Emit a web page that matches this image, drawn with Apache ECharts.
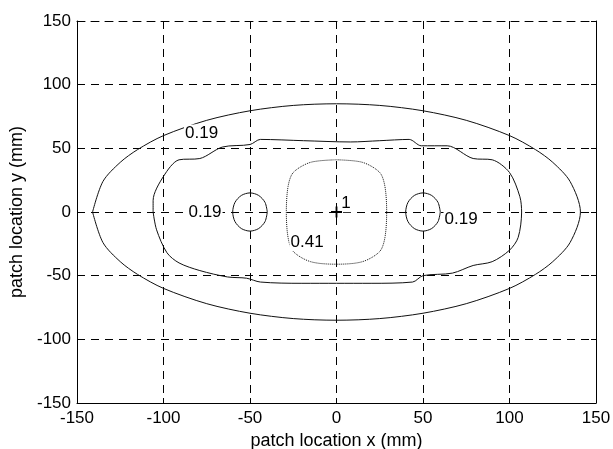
<!DOCTYPE html>
<html>
<head>
<meta charset="utf-8">
<script src="https://cdn.jsdelivr.net/npm/echarts@6/dist/echarts.min.js"></script>
<style>
  html, body { margin: 0; padding: 0; background: #fff; }
  #main { width: 613px; height: 449px; }
</style>
</head>
<body>
<div id="main"></div>
<script>
// tick labels
var ticks = [-150, -100, -50, 0, 50, 100, 150]

// contour 0.19 outer (ellipse-like)
var outerContour = [
  [-141, 0], [-135, 24], [-125, 39], [-115, 49], [-100, 60], [-75, 72], [-50, 79.5], [-25, 83.7],
  [0, 85], [25, 83.7], [50, 79.5], [75, 72], [100, 60], [115, 49], [125, 39], [135, 24], [141, 0],
  [135, -24], [125, -39], [115, -49], [100, -60], [75, -72], [50, -79.5], [25, -83.7],
  [0, -85], [-25, -83.7], [-50, -79.5], [-75, -72], [-100, -60], [-115, -49], [-125, -39], [-135, -24], [-141, 0]
]

// middle contour
var middleContour = [
  [-106, 0], [-106, 9], [-100, 28], [-91, 41], [-79, 42], [-66, 51], [-50, 53], [-44, 57], [-19, 56],
  [8, 55], [25, 56], [42, 57], [49, 52], [64, 52], [79, 42], [90, 41], [100, 31], [106, 12], [107, 0],
  [105, -20], [100, -30], [90, -39], [79, -42], [67, -48], [50, -50], [44, -55], [20, -56], [0, -56],
  [-20, -56], [-44, -55], [-52, -52], [-63, -51], [-79, -46], [-91, -40], [-98, -32], [-104, -14], [-106, 0]
]

// small contours around x = -50 and x = 50
var leftCircle = [
  [-40, 0], [-41.3, 7.5], [-45, 13], [-50, 15], [-55, 13], [-58.7, 7.5], [-60, 0],
  [-58.7, -7.5], [-55, -13], [-50, -15], [-45, -13], [-41.3, -7.5], [-40, 0]
]
var rightCircle = [
  [60, 0], [58.7, 7.5], [55, 13], [50, 15], [45, 13], [41.3, 7.5], [40, 0],
  [41.3, -7.5], [45, -13], [50, -15], [55, -13], [58.7, -7.5], [60, 0]
]

// inner dotted contour 0.41
var innerContour = [
  [0, 41], [15, 39], [25, 31], [28, 20], [29, 0], [28, -20], [25, -31], [15, -39],
  [0, -41], [-15, -39], [-25, -31], [-28, -20], [-29, 0], [-28, 20], [-25, 31], [-15, 39], [0, 41]
]

// contour labels [x, y, text]
var contourLabels = [
  [-78, 62, '0.19'],
  [-76, 0, '0.19'],
  [72, -6, '0.19'],
  [-17, -24, '0.41'],
  [5.5, 6.5, '1']
]
var peak = [[0, 0]]

var font = 'Liberation Sans, Arial, sans-serif'
var myChart = echarts.init(document.getElementById('main'))

function contourSeries (data, type) {
  return {
    type: 'line',
    data: data,
    smooth: 0.3,
    symbol: 'none',
    silent: true,
    lineStyle: { color: '#111', width: 1, type: type || 'solid' },
    z: 3
  }
}

var axisCommon = {
  type: 'value',
  min: -150,
  max: 150,
  interval: 50,
  axisLine: { show: true, onZero: false, lineStyle: { color: '#000', width: 1 } },
  axisTick: { show: true, inside: true, length: 5, lineStyle: { color: '#000' } },
  splitLine: { show: true, lineStyle: { color: '#000', width: 1, type: [8, 6] } },
  nameLocation: 'middle',
  nameTextStyle: { color: '#000', fontSize: 18, fontFamily: font }
}

myChart.setOption({
  animation: false,
  backgroundColor: '#fff',
  grid: { left: 77, right: 17, top: 21, bottom: 46, containLabel: false, outerBoundsMode: 'none' },
  xAxis: [
    Object.assign({}, axisCommon, {
      position: 'bottom',
      name: 'patch location x (mm)',
      nameGap: 23,
      axisLabel: { color: '#000', fontSize: 17, fontFamily: font, margin: 7 }
    }),
    Object.assign({}, axisCommon, {
      position: 'top',
      axisLine: { show: true, onZero: false, lineStyle: { color: '#000', width: 1, type: [8, 6] } },
      axisLabel: { show: false },
      splitLine: { show: false }
    })
  ],
  yAxis: [
    Object.assign({}, axisCommon, {
      position: 'left',
      name: 'patch location y (mm)',
      nameGap: 45,
      nameRotate: 90,
      axisLabel: { color: '#000', fontSize: 17, fontFamily: font, margin: 6 }
    }),
    Object.assign({}, axisCommon, {
      position: 'right',
      axisLabel: { show: false },
      splitLine: { show: false }
    })
  ],
  series: [
    contourSeries(outerContour),
    contourSeries(middleContour),
    contourSeries(leftCircle),
    contourSeries(rightCircle),
    contourSeries(innerContour, 'dotted'),
    {
      type: 'scatter',
      data: contourLabels,
      symbolSize: 0,
      silent: true,
      itemStyle: { opacity: 1 },
      label: {
        show: true,
        position: 'inside',
        formatter: function (p) { return p.value[2] },
        color: '#000',
        textBorderWidth: 0,
        fontSize: 17,
        fontFamily: font,
        backgroundColor: '#fff',
        padding: [0, 1]
      },
      z: 5
    },
    {
      type: 'scatter',
      data: peak,
      symbol: 'path://M-1,-6H1V-1H6V1H1V6H-1V1H-6V-1H-1Z',
      symbolSize: 11,
      itemStyle: { color: '#000', opacity: 1 },
      silent: true,
      z: 6
    }
  ]
})
</script>
</body>
</html>
